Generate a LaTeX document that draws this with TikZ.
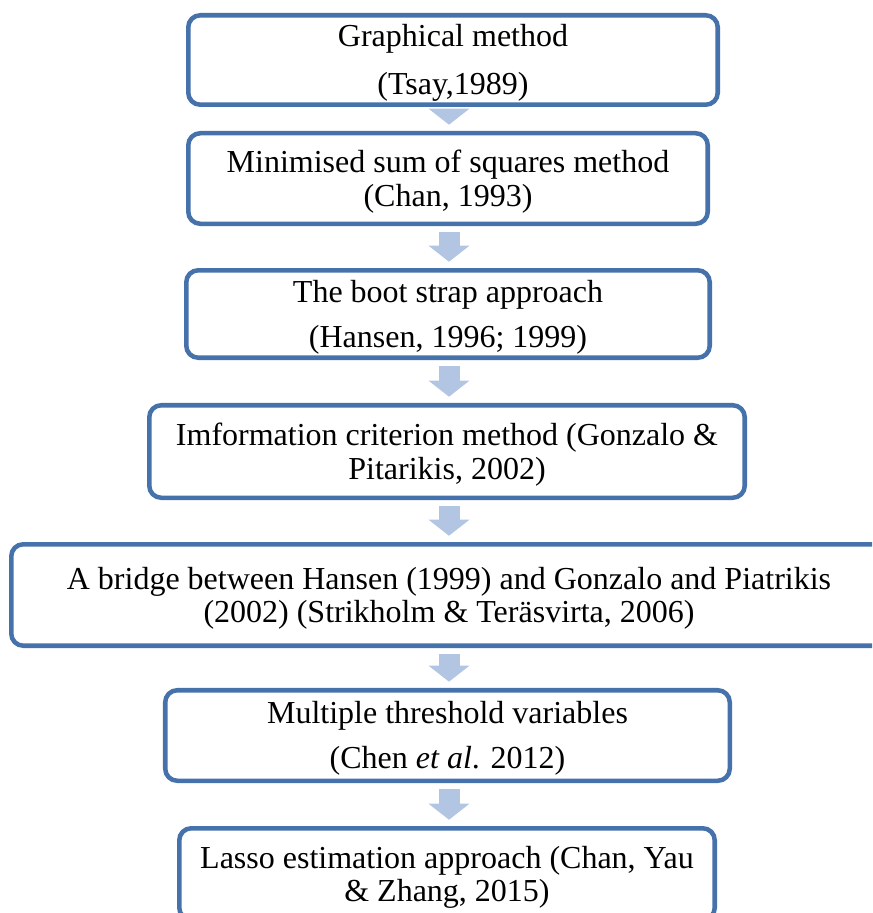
\documentclass[tikz,border=0pt]{standalone}
\usepackage{fontspec}
\setmainfont{Liberation Serif}
\usetikzlibrary{arrows.meta}
\definecolor{boxblue}{HTML}{4672AC}
\definecolor{arrowblue}{HTML}{B2C5E2}
\newcommand{\lift}{\rule{0pt}{21.5pt}}
\tikzset{
  box/.style={rectangle,draw=boxblue,line width=3.4pt,rounded corners=9pt,align=center,inner sep=0pt,
    font=\fontsize{24}{25}\selectfont},
  flow/.style={draw=arrowblue,line width=15.75pt,-{Triangle[width=30pt,length=12pt]},
    shorten <=4.7pt,shorten >=4.7pt}
}
\begin{document}
\begin{tikzpicture}[x=0.75pt,y=-0.75pt]
\clip (0,0) rectangle (872,913);
\coordinate (mid) at (449,0);
\node at (453,60) [box,minimum width=397.1pt,minimum height=67.1pt] (m1) {\lift Graphical method\\[11pt](Tsay,1989)};
\node at (448,178.5) [box,minimum width=389.6pt,minimum height=67.9pt] (m2) {\lift Minimised sum of squares method\\(Chan, 1993)};
\node at (448,314) [box,minimum width=392.6pt,minimum height=65.6pt] (m3) {\lift The boot strap approach\\[8.75pt](Hansen, 1996; 1999)};
\node at (447,451.5) [box,minimum width=446.6pt,minimum height=69.4pt] (m4) {\lift Imformation criterion method (Gonzalo \&\\Pitarikis, 2002)};
\node at (449,595) [box,minimum width=656.6pt,minimum height=76.1pt] (m5) {\lift A bridge between Hansen (1999) and Gonzalo and Piatrikis\\(2002) (Strikholm \& Teräsvirta, 2006)};
\node at (447.5,735.5) [box,minimum width=423.4pt,minimum height=67.9pt] (m6) {\lift Multiple threshold variables\\[8.75pt](Chen \textit{et al}. 2012)};
\node at (447,874) [box,minimum width=401.6pt,minimum height=68.6pt] (m7) {\lift Lasso estimation approach (Chan, Yau\\\& Zhang, 2015)};
\draw[flow] (m1.south -| mid) -- (m2.north -| mid);
\draw[flow] (m2.south -| mid) -- (m3.north -| mid);
\draw[flow] (m3.south -| mid) -- (m4.north -| mid);
\draw[flow] (m4.south -| mid) -- (m5.north -| mid);
\draw[flow] (m5.south -| mid) -- (m6.north -| mid);
\draw[flow] (m6.south -| mid) -- (m7.north -| mid);
\end{tikzpicture}
\end{document}
